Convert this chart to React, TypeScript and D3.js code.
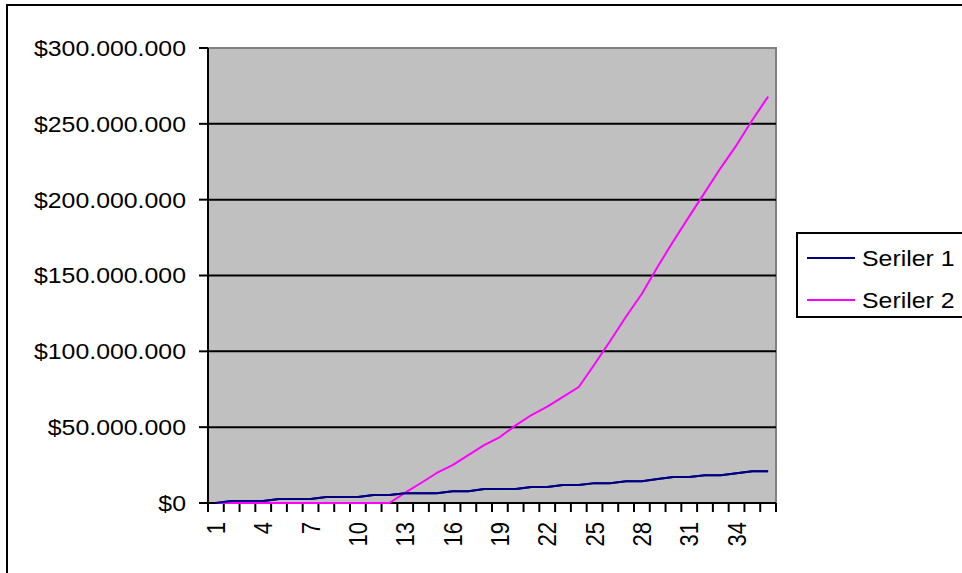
import * as d3 from "d3";

// category numbers 1..36
const CATEGORIES = [
  1, 2, 3, 4, 5, 6, 7, 8, 9, 10, 11, 12, 13, 14, 15, 16, 17, 18, 19, 20, 21,
  22, 23, 24, 25, 26, 27, 28, 29, 30, 31, 32, 33, 34, 35, 36,
];

// values in millions
const SERIES_1 = [
  0, 1.3, 1.3, 1.3, 2.6, 2.6, 2.6, 3.9, 3.9, 3.9, 5.2, 5.2, 6.4, 6.4, 6.4, 7.8,
  7.8, 9.2, 9.2, 9.2, 10.6, 10.6, 11.8, 11.8, 13.1, 13.1, 14.4, 14.4, 15.8,
  17.2, 17.2, 18.3, 18.3, 19.6, 21, 21,
];
const SERIES_2 = [
  0, 0, 0, 0, 0, 0, 0, 0, 0, 0, 0, 0, 6.8, 13.2, 19.8, 25, 31.6, 38.2, 43.5,
  51.2, 58, 63.5, 70, 76.5, 91.5, 107, 123, 138, 155.8, 172.8, 189, 205, 221,
  236, 252.5, 268,
];

const SERIES_NAMES = ["Seriler 1", "Seriler 2"];
const SERIES_COLORS = ["#000080", "#ff00ff"];
const Y_TICKS = [0, 50, 100, 150, 200, 250, 300];
const X_LABEL_EVERY = 3;

const W = 962;
const H = 573;
const M = { left: 208, right: 776, top: 48, bottom: 503 };
const FONT = "'Liberation Sans', Arial, sans-serif";
const FS = 22;
const SX = 1.13; // the source picture is stretched a bit sideways

const fmtMoney = (m: number) =>
  "$" + d3.format(",")(Math.round(m * 1e6)).replace(/,/g, ".");

export default function App() {
  const x = d3
    .scaleBand<number>()
    .domain(CATEGORIES)
    .range([M.left, M.right]);
  const cx = (d: number) => (x(d) ?? 0) + x.bandwidth() / 2;
  const y = d3.scaleLinear().domain([0, 300]).range([M.bottom, M.top]);

  const line = d3
    .line<number>()
    .x((_, i) => cx(CATEGORIES[i]))
    .y((v) => y(v));

  const series = [SERIES_1, SERIES_2];

  return (
    <svg
      width={W}
      height={H}
      style={{ position: "absolute", left: 0, top: 0, display: "block" }}
      fontFamily={FONT}
    >
      <rect x={0} y={0} width={W} height={H} fill="#fff" />
      {/* chart area border, cropped on the right and bottom */}
      <rect
        x={7}
        y={5}
        width={1000}
        height={700}
        fill="none"
        stroke="#000"
        strokeWidth={2}
      />

      {/* plot area */}
      <rect
        x={M.left}
        y={M.top}
        width={M.right - M.left}
        height={M.bottom - M.top}
        fill="#c0c0c0"
        stroke="#808080"
        strokeWidth={2}
      />
      {Y_TICKS.filter((t) => t > 0 && t < 300).map((t) => (
        <line
          key={t}
          x1={M.left}
          x2={M.right}
          y1={y(t)}
          y2={y(t)}
          stroke="#000"
          strokeWidth={2}
        />
      ))}

      {/* y axis */}
      <line
        x1={M.left}
        x2={M.left}
        y1={M.top}
        y2={M.bottom}
        stroke="#000"
        strokeWidth={2}
      />
      {Y_TICKS.map((t) => (
        <g key={t}>
          <line
            x1={M.left - 9}
            x2={M.left}
            y1={y(t)}
            y2={y(t)}
            stroke="#000"
            strokeWidth={2}
          />
          <text
            transform={`translate(${186},${y(t)}) scale(${SX},1)`}
            textAnchor="end"
            dy="0.36em"
            fontSize={FS}
            fill="#000"
          >
            {fmtMoney(t)}
          </text>
        </g>
      ))}

      {/* x axis */}
      <line
        x1={M.left}
        x2={M.right}
        y1={M.bottom}
        y2={M.bottom}
        stroke="#000"
        strokeWidth={2}
      />
      {[...CATEGORIES, CATEGORIES.length + 1].map((c) => {
        const px =
          c <= CATEGORIES.length ? x(c) ?? 0 : M.right;
        return (
          <line
            key={c}
            x1={px}
            x2={px}
            y1={M.bottom}
            y2={M.bottom + 9}
            stroke="#000"
            strokeWidth={2}
          />
        );
      })}
      {CATEGORIES.filter((_, i) => i % X_LABEL_EVERY === 0).map((c) => (
        <text
          key={c}
          transform={`translate(${cx(c)},${522}) scale(${SX},1) rotate(-90)`}
          textAnchor="end"
          dy="0.36em"
          fontSize={FS}
          fill="#000"
        >
          {c}
        </text>
      ))}

      {/* lines */}
      {series.map((s, i) => (
        <path
          key={i}
          d={line(s) ?? ""}
          fill="none"
          stroke={SERIES_COLORS[i]}
          strokeWidth={2}
          strokeLinejoin="round"
        />
      ))}
      {/* the navy line sits on top where both are zero */}
      <path
        d={line(SERIES_1) ?? ""}
        fill="none"
        stroke={SERIES_COLORS[0]}
        strokeWidth={2}
      />

      {/* legend */}
      <rect
        x={797}
        y={233}
        width={200}
        height={84}
        fill="#fff"
        stroke="#000"
        strokeWidth={2}
      />
      {SERIES_NAMES.map((name, i) => {
        const ly = 258 + i * 42;
        return (
          <g key={name}>
            <line
              x1={807}
              x2={855}
              y1={ly}
              y2={ly}
              stroke={SERIES_COLORS[i]}
              strokeWidth={2}
            />
            <text
              transform={`translate(${862},${ly}) scale(${SX},1)`}
              dy="0.36em"
              fontSize={FS}
              fill="#000"
            >
              {name}
            </text>
          </g>
        );
      })}
    </svg>
  );
}
